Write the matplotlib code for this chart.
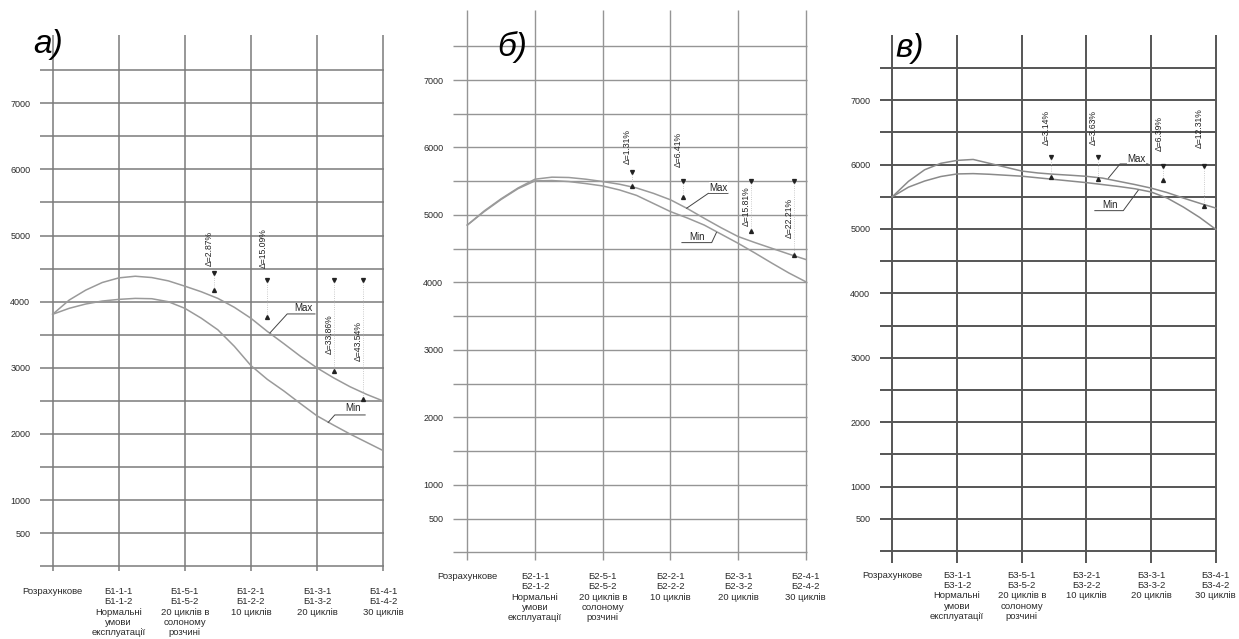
import matplotlib.pyplot as plt

W, H = 1239, 639
plt.rcParams['font.family'] = ['Liberation Sans', 'DejaVu Sans']

# --- дані, зчитані з графіків ---
x_pos = [0, 0.25, 0.5, 0.75, 1, 1.25, 1.5, 1.75, 2, 2.25, 2.5,
         2.75, 3, 3.25, 3.5, 3.75, 4, 4.25, 4.5, 4.75, 5]

a_max = [3810, 4025, 4175, 4290, 4360, 4385, 4365, 4315, 4235, 4150, 4050,
         3915, 3750, 3550, 3365, 3175, 3000, 2850, 2715, 2600, 2500]
a_min = [3810, 3900, 3965, 4010, 4035, 4050, 4045, 4000, 3900, 3750, 3575,
         3325, 3035, 2825, 2650, 2460, 2275, 2135, 2000, 1875, 1750]

b_max = [4850, 5060, 5240, 5400, 5530, 5560, 5555, 5530, 5495, 5455, 5400,
         5320, 5225, 5095, 4950, 4810, 4680, 4590, 4505, 4420, 4340]
b_min = [4850, 5050, 5230, 5390, 5505, 5510, 5495, 5465, 5430, 5370, 5290,
         5170, 5050, 4955, 4850, 4715, 4580, 4435, 4285, 4140, 4010]

c_max = [5500, 5740, 5920, 6020, 6065, 6080, 6020, 5960, 5900, 5870, 5850,
         5835, 5818, 5790, 5740, 5690, 5635, 5565, 5480, 5400, 5325]
c_min = [5500, 5650, 5745, 5815, 5855, 5860, 5850, 5835, 5820, 5795, 5770,
         5745, 5720, 5690, 5660, 5625, 5575, 5480, 5340, 5180, 4995]

y_tick_values = [500, 1000, 2000, 3000, 4000, 5000, 6000, 7000]
grid_levels = [0, 500, 1000, 1500, 2000, 2500, 3000, 3500, 4000,
               4500, 5000, 5500, 6000, 6500, 7000, 7500]
cat_pos = [0, 1, 2, 3, 4, 5]


def cats(n):
    return ["Розрахункове",
            f"Б{n}-1-1\nБ{n}-1-2\nНормальні\nумови\nексплуатації",
            f"Б{n}-5-1\nБ{n}-5-2\n20 циклів в\nсолоному\nрозчині",
            f"Б{n}-2-1\nБ{n}-2-2\n10 циклів",
            f"Б{n}-3-1\nБ{n}-3-2\n20 циклів",
            f"Б{n}-4-1\nБ{n}-4-2\n30 циклів"]


a_delta_labels = ["Δ=2.87%", "Δ=15.09%", "Δ=33.86%", "Δ=43.54%"]
a_delta_x = [2.44, 3.25, 4.26, 4.70]
a_delta_top = [4430, 4325, 4325, 4325]
a_delta_bottom = [4180, 3775, 2950, 2535]
a_delta_text_y = [4810, 4810, 3510, 3410]

b_delta_labels = ["Δ=1.31%", "Δ=6.41%", "Δ=15.81%", "Δ=22.21%"]
b_delta_x = [2.44, 3.18, 4.19, 4.83]
b_delta_top = [5640, 5500, 5500, 5500]
b_delta_bottom = [5430, 5270, 4755, 4410]
b_delta_text_y = [6020, 5975, 5130, 4950]

c_delta_labels = ["Δ=3.14%", "Δ=3.63%", "Δ=6.39%", "Δ=12.31%"]
c_delta_x = [2.45, 3.18, 4.19, 4.82]
c_delta_top = [6113, 6113, 5985, 5985]
c_delta_bottom = [5803, 5777, 5767, 5352]
c_delta_text_y = [6570, 6570, 6480, 6560]

# підписи Max / Min з виносками
a_max_text = (3.79, 3905)
a_max_leader_x = [3.97, 3.55, 3.29]
a_max_leader_y = [3815, 3815, 3530]
a_min_text = (4.55, 2395)
a_min_leader_x = [4.73, 4.27, 4.17]
a_min_leader_y = [2288, 2288, 2175]

b_max_text = (3.71, 5405)
b_max_leader_x = [3.85, 3.56, 3.24]
b_max_leader_y = [5320, 5320, 5100]
b_min_text = (3.39, 4680)
b_min_leader_x = [3.17, 3.61, 3.68]
b_min_leader_y = [4590, 4590, 4740]

c_max_text = (3.78, 6093)
c_max_leader_x = [3.95, 3.52, 3.34]
c_max_leader_y = [6010, 6010, 5790]
c_min_text = (3.36, 5380)
c_min_leader_x = [3.13, 3.57, 3.80]
c_min_leader_y = [5285, 5285, 5600]


fig = plt.figure(figsize=(W / 100, H / 100), dpi=100)


def panel(geom, grid_col, grid_lw, curve_col, ymax, ymin, labels,
          d_lab, d_x, d_top, d_bot, d_ty, max_t, max_lx, max_ly,
          min_t, min_lx, min_ly, xlab_pad, letter, letter_xy):
    x0, dx, y0, dy, left, right, top, bottom, hl_right, vl_bot, vl_top = geom
    ax = fig.add_axes([left / W, 1 - bottom / H, (right - left) / W, (bottom - top) / H])
    xlim = ((left - x0) / dx, (right - x0) / dx)
    ax.set_xlim(xlim)
    ax.set_ylim((y0 - bottom) / dy * 1000, (y0 - top) / dy * 1000)
    for s in ax.spines.values():
        s.set_visible(False)

    hx1 = (hl_right - x0) / dx
    ax.hlines(grid_levels, xlim[0], hx1, color=grid_col, lw=grid_lw, zorder=1)
    ax.vlines(cat_pos, (y0 - vl_bot) / dy * 1000, (y0 - vl_top) / dy * 1000,
              color=grid_col, lw=grid_lw, zorder=1)

    ax.plot(x_pos, ymax, color=curve_col, lw=1.1, zorder=3)
    ax.plot(x_pos, ymin, color=curve_col, lw=1.1, zorder=3)

    for lab, x, yt, yb, ty in zip(d_lab, d_x, d_top, d_bot, d_ty):
        ax.plot([x, x], [yt, yb], color='#bbbbbb', lw=0.6, ls=':', zorder=4)
        ax.plot([x], [yt], marker='v', ms=2.8, color='#222222', zorder=5)
        ax.plot([x], [yb], marker='^', ms=2.8, color='#222222', zorder=5)
        ax.text(x - 0.07, ty, lab, rotation=90, ha='center', va='center',
                fontsize=6.2, color='#222222', zorder=5)

    for (tx, ty), lx, ly, s in ((max_t, max_lx, max_ly, "Max"),
                                 (min_t, min_lx, min_ly, "Min")):
        ax.plot(lx, ly, color='#444444', lw=0.7, zorder=4)
        ax.text(tx, ty, s, ha='center', va='center', fontsize=7,
                color='#222222', zorder=5,
                bbox=dict(facecolor='white', edgecolor='none', pad=0.3))

    ax.set_yticks(y_tick_values)
    ax.set_yticklabels([str(v) for v in y_tick_values])
    ax.set_xticks(cat_pos)
    ax.set_xticklabels(labels, linespacing=1.2)
    ax.tick_params(axis='y', length=0, pad=7, labelsize=6.5, labelcolor='#2a2a2a')
    ax.tick_params(axis='x', length=0, pad=xlab_pad, labelsize=6.8, labelcolor='#2a2a2a')
    for t in ax.get_xticklabels():
        t.set_va('top')

    fig.text(letter_xy[0] / W, 1 - letter_xy[1] / H, letter, fontsize=24,
             style='italic', ha='center', va='center', color='black')
    return ax


panel((52.7, 66.06, 566.3, 66.15, 40, 386, 34, 573, 384, 571, 35),
      '#7a7a7a', 1.1, '#9a9a9a', a_max, a_min, cats(1),
      a_delta_labels, a_delta_x, a_delta_top, a_delta_bottom, a_delta_text_y,
      a_max_text, a_max_leader_x, a_max_leader_y,
      a_min_text, a_min_leader_x, a_min_leader_y, 10, "а)", (48, 44))

panel((467.3, 67.7, 552.3, 67.47, 453, 809, 9, 562, 807, 560, 10),
      '#959595', 1.0, '#9a9a9a', b_max, b_min, cats(2),
      b_delta_labels, b_delta_x, b_delta_top, b_delta_bottom, b_delta_text_y,
      b_max_text, b_max_leader_x, b_max_leader_y,
      b_min_text, b_min_leader_x, b_min_leader_y, 7, "б)", (512, 47))

panel((892.3, 64.7, 551, 64.4, 880, 1219, 34, 565, 1216, 563, 35),
      '#555555', 1.4, '#8a8a8a', c_max, c_min, cats(3),
      c_delta_labels, c_delta_x, c_delta_top, c_delta_bottom, c_delta_text_y,
      c_max_text, c_max_leader_x, c_max_leader_y,
      c_min_text, c_min_leader_x, c_min_leader_y, 4, "в)", (910, 49))

fig.savefig("out.png", dpi=100, facecolor='white')
